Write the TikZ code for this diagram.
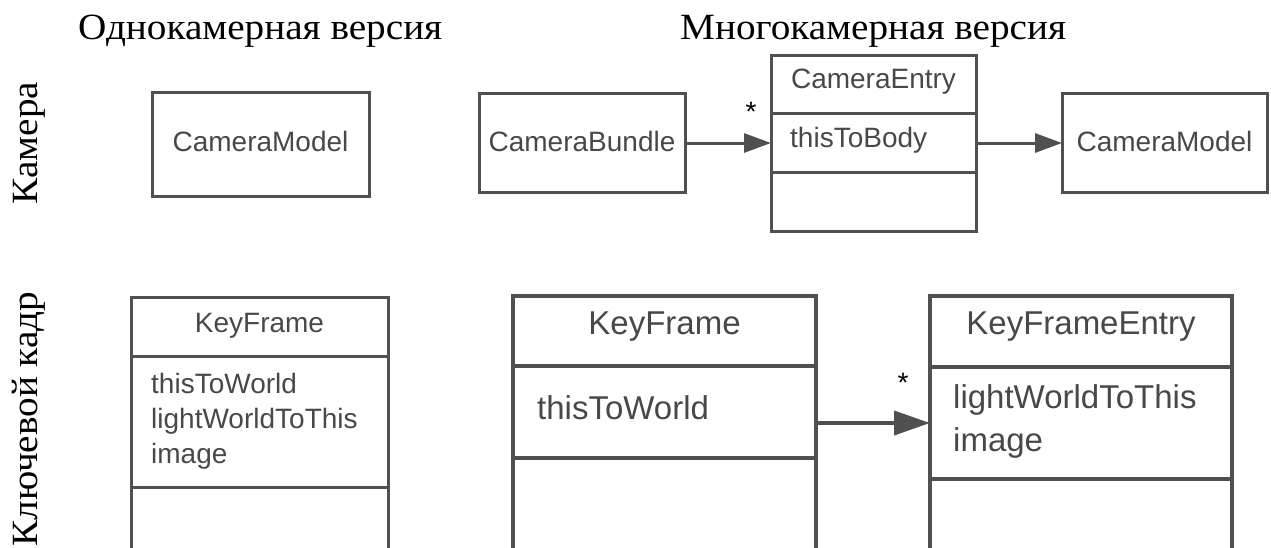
\documentclass[tikz,border=0pt]{standalone}
\usepackage{fontspec}
\setmainfont{Liberation Sans}
\newfontfamily\headserif[FakeStretch=1.06]{Liberation Serif}
\usetikzlibrary{arrows.meta}

\definecolor{linegray}{RGB}{80,80,80}
\definecolor{textgray}{RGB}{72,72,72}

\newcommand\headfont{\headserif\fontsize{37}{44}\selectfont}
\newcommand\boxfont{\fontsize{28}{35}\selectfont}
\newcommand\bigboxfont{\fontsize{33}{43}\selectfont}

\tikzset{
  x=1pt, y=-1pt,
  umlbox/.style={draw=linegray, line width=3pt},
  umlboxthick/.style={draw=linegray, line width=3.5pt},
  boxlabel/.style={text=textgray, inner sep=0pt, font=\boxfont},
  biglabel/.style={text=textgray, inner sep=0pt, font=\bigboxfont},
  heading/.style={inner sep=0pt, anchor=base west, font=\headfont},
  sidehead/.style={inner sep=0pt, anchor=base, rotate=90, font=\headfont},
  assoc/.style={draw=linegray, line width=3pt,
    -{Triangle[length=27pt,width=19pt]}},
  assocbig/.style={draw=linegray, line width=4pt,
    -{Triangle[length=36pt,width=24pt]}},
  mult/.style={inner sep=0pt, font=\boxfont},
}

\begin{document}
\begin{tikzpicture}
\useasboundingbox (0,0) rectangle (1271,547);
\clip (0,0) rectangle (1271,547);

% column and row headings
\node[heading] (hsingle) at (78,39) {Однокамерная версия};
\node[heading] (hmulti) at (680,39) {Многокамерная версия};
\node[sidehead] (hcamera) at (37,143) {Камера};
\node[sidehead] (hkeyframe) at (37,419) {Ключевой кадр};

% ---- camera row, single-camera version
\draw[umlbox] (152,92) rectangle (369,196);
\node[boxlabel] (camL) at (260.5,141) {CameraModel};

% ---- camera row, multi-camera version
\draw[umlbox] (479,93) rectangle (685,192);
\node[boxlabel] (bundle) at (582,141) {CameraBundle};
\coordinate (bundleE) at (685,143);

\draw[umlbox] (771,55) rectangle (976,231);
\draw[umlbox] (771,113) -- (976,113);
\draw[umlbox] (771,172) -- (976,172);
\node[boxlabel] (entryT) at (873.5,82) {CameraEntry};
\node[boxlabel, anchor=west] (entryA) at (790,140) {thisToBody};
\coordinate (entryW) at (771,143);
\coordinate (entryE) at (976,143);

\draw[umlbox] (1062,93) rectangle (1267,192);
\node[boxlabel] (camR) at (1164.5,141) {CameraModel};
\coordinate (camRW) at (1062,143);

\draw[assoc] (bundleE) -- (entryW);
\node[mult] (star1) at (751,112) {*};
\draw[assoc] (entryE) -- (camRW);

% ---- key frame row, single-camera version
\draw[umlbox] (131,297) rectangle (388,600);
\draw[umlbox] (131,356) -- (388,356);
\draw[umlbox] (131,487) -- (388,487);
\node[boxlabel] (kfL) at (259.5,326) {KeyFrame};
\node[boxlabel, anchor=north west, align=left] (kfLA) at (151,373)
  {thisToWorld\\lightWorldToThis\\image};

% ---- key frame row, multi-camera version
\draw[umlboxthick] (513,296) rectangle (816,600);
\draw[umlboxthick] (513,366) -- (816,366);
\draw[umlboxthick] (513,458) -- (816,458);
\node[biglabel] (kfM) at (664.5,327) {KeyFrame};
\node[biglabel, anchor=west] (kfMA) at (537,408) {thisToWorld};
\coordinate (kfME) at (816,423);

\draw[umlboxthick] (930,296) rectangle (1232,600);
\draw[umlboxthick] (930,367) -- (1232,367);
\draw[umlboxthick] (930,479) -- (1232,479);
\node[biglabel] (kfe) at (1081,327) {KeyFrameEntry};
\node[biglabel, anchor=north west, align=left] (kfeA) at (953,384)
  {lightWorldToThis\\image};
\coordinate (kfeW) at (930,423);

\draw[assocbig] (kfME) -- (kfeW);
\node[mult] (star2) at (903,383) {*};
\end{tikzpicture}
\end{document}
